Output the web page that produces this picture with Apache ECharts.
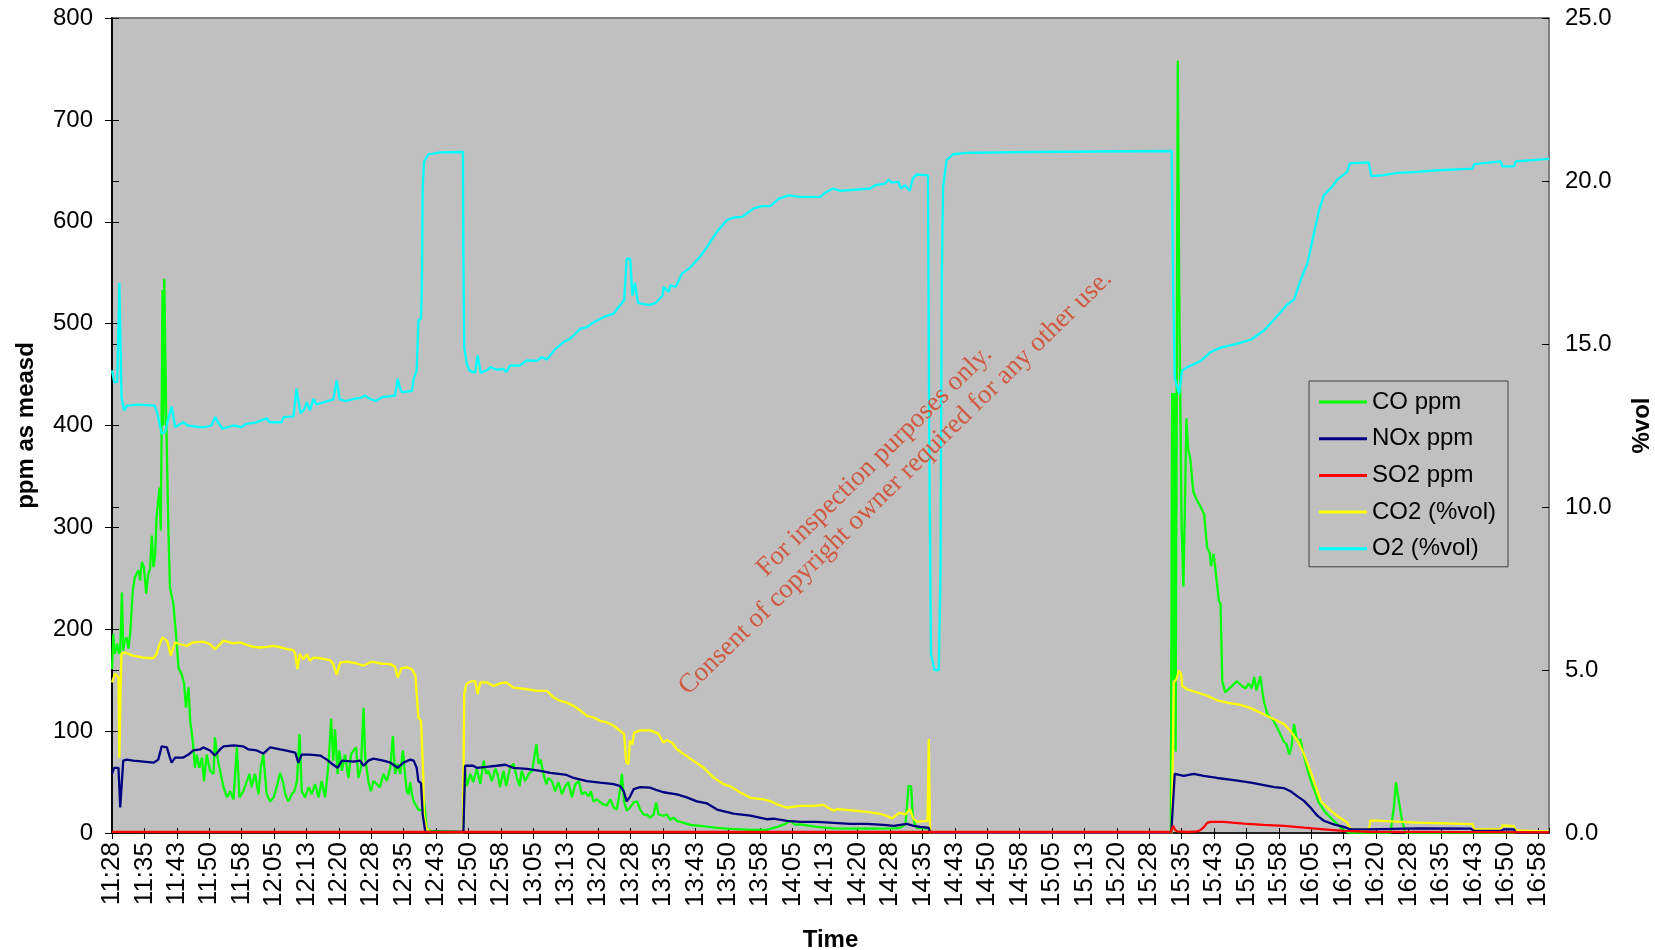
<!DOCTYPE html>
<html>
<head>
<meta charset="utf-8">
<script src="https://cdn.jsdelivr.net/npm/echarts@6.0.0/dist/echarts.min.js"></script>
<style>
  html, body { margin: 0; padding: 0; background: #fff; }
  #chart { width: 1655px; height: 950px; }
</style>
</head>
<body>
<div id="chart"></div>
<script>
// x = minutes after 11:28, one label every 7.5 minutes
var timeLabels = ['11:28','11:35','11:43','11:50','11:58','12:05','12:13','12:20','12:28','12:35',
  '12:43','12:50','12:58','13:05','13:13','13:20','13:28','13:35','13:43','13:50','13:58','14:05',
  '14:13','14:20','14:28','14:35','14:43','14:50','14:58','15:05','15:13','15:20','15:28','15:35',
  '15:43','15:50','15:58','16:05','16:13','16:20','16:28','16:35','16:43','16:50','16:58'];
var labelStep = 7.5;
var names = ['CO ppm', 'NOx ppm', 'SO2 ppm', 'CO2 (%vol)', 'O2 (%vol)'];
var colors = ['#00ff00', '#000080', '#ff0000', '#ffff00', '#00ffff'];

// [minute, ppm]
var coPpm = [[0,161],[0.3,195],[0.6,176],[0.9,180],[1.2,186],[1.6,176],[1.9,178],[2.3,236],[2.6,179],[3.0,190],
  [3.4,192],[3.8,181],[4.2,195],[4.8,238],[5.3,251],[6.1,258],[6.5,248],[6.9,266],[7.4,261],[7.9,235],
  [8.4,254],[8.8,259],[9.2,292],[9.6,261],[10.0,274],[10.3,310],[11.0,339],[11.3,297],[11.7,533],[11.9,400],
  [12.1,544],[12.5,420],[12.8,350],[13.0,307],[13.4,241],[14.2,225],[14.8,195],[15.4,162],[16.1,156],[16.7,146],
  [17.1,123],[17.7,143],[18.1,110],[18.7,90],[19.2,64],[19.6,77],[20.2,64],[20.8,74],[21.3,51],[21.9,77],
  [22.7,61],[23.5,58],[23.8,94],[24.4,74],[25.0,61],[25.8,45],[26.6,35],[27.3,41],[28.1,33],[28.9,84],
  [29.5,35],[30.4,41],[31.2,51],[31.8,58],[32.3,45],[33.1,58],[33.9,38],[34.4,64],[35.0,77],[35.8,38],
  [36.6,31],[37.4,35],[38.1,45],[38.9,59],[39.5,51],[40.1,38],[40.8,31],[41.6,38],[42.2,41],[42.8,51],
  [43.4,97],[43.9,41],[44.7,35],[45.5,45],[46.2,38],[47.0,48],[47.8,35],[48.5,51],[49.3,35],[50.1,68],
  [50.7,112],[51.2,71],[51.6,102],[52.2,58],[52.6,81],[53.2,61],[53.9,77],[54.7,54],[55.3,77],[55.9,81],
  [56.5,84],[57.0,54],[57.6,64],[58.2,123],[58.6,74],[59.3,51],[59.9,41],[60.5,51],[61.3,48],[62.0,45],
  [62.8,58],[63.6,51],[64.4,64],[65.0,95],[65.5,58],[66.1,68],[66.7,58],[67.3,81],[67.8,58],[68.2,41],
  [68.6,38],[69.0,50],[69.4,38],[69.8,31],[70.2,30],[70.9,23],[71.7,22],[72.1,35],[72.5,18],[72.8,5],
  [73.6,2],[81.3,1],[81.6,64],[82.1,46],[82.9,58],[83.6,50],[84.4,63],[85.2,48],[86.0,71],[86.6,58],
  [87.1,61],[87.9,51],[88.7,63],[89.2,58],[89.8,45],[90.6,61],[91.2,46],[92.1,64],[92.9,68],[93.7,54],
  [94.3,46],[94.8,61],[95.6,51],[96.4,58],[97.2,61],[97.7,74],[98.2,87],[98.7,68],[99.2,72],[99.8,58],
  [100.5,48],[101.0,54],[101.8,51],[102.5,41],[103.3,50],[104.1,38],[104.9,46],[105.6,50],[106.4,35],[107.2,48],
  [108.0,51],[108.7,38],[109.5,40],[110.3,36],[110.8,41],[111.4,31],[112.2,33],[113.0,30],[113.7,28],[114.5,27],
  [115.3,33],[116.1,25],[116.8,23],[117.4,38],[118.0,58],[118.5,31],[119.1,22],[119.9,25],[120.7,30],[121.5,31],
  [122.2,23],[123.0,18],[123.8,18],[124.5,15],[125.3,18],[125.9,30],[126.5,18],[127.6,17],[128.4,18],[129.2,13],
  [129.9,15],[130.7,12],[132.3,10],[133.8,8],[136.1,7],[140.0,5],[143.1,4],[147.7,3],[151.5,3],[153.9,6],
  [155.8,9],[156.9,12],[158.1,8],[159.3,8.5],[163.1,6],[167.0,4.6],[174.7,4.3],[180.9,4.6],[182.4,5.2],[183.6,8.5],
  [184.3,46],[184.9,46],[185.3,15],[186.1,5],[189.0,4.3],[189.3,0.3],[245.0,0.3],[245.3,432],[245.5,150],[245.8,432],
  [246.1,80],[246.6,758],[247.0,500],[247.5,300],[247.9,242],[248.3,330],[248.6,407],[249.0,377],[249.5,367],[250.2,335],
  [251.1,326],[251.9,320],[252.7,313],[253.4,280],[254.0,275],[254.3,262],[254.9,274],[255.6,248],[256.1,228],[256.5,225],
  [256.9,149],[257.6,138],[258.8,143],[260.3,149],[261.5,144],[262.3,142],[263.0,147],[263.7,142],[264.3,153],[264.8,140],
  [265.7,154],[266.5,130],[267.3,117],[268.8,110],[270.0,100],[271.1,90],[271.8,87],[272.4,77],[272.9,84],[273.5,107],
  [274.2,90],[275.0,92],[275.7,77],[276.9,58],[277.7,48],[279.2,30],[280.8,20],[282.7,12],[284.6,4],[286.2,0.3],
  [295.8,0.5],[296.6,25],[297.1,50],[297.8,30],[298.5,12],[299.3,0.5],[332.5,0.3]];

var noxPpm = [[0,58],[0.5,64],[1.5,64],[1.9,25],[2.6,71],[3.4,72],[4.9,71],[7.3,70],[9.6,69],[10.7,72],
  [11.5,85],[12.7,84],[13.4,74],[13.8,69],[14.6,74],[16.5,74],[17.7,77],[18.8,81],[20.4,82],[21.1,84],
  [22.7,81],[23.8,76],[25.0,82],[25.8,85],[28.1,86],[30.4,85],[31.6,82],[33.5,81],[35.0,78],[36.6,84],
  [38.9,82],[40.1,81],[42.4,79],[43.1,69],[43.9,77],[45.8,77],[48.2,76],[49.7,72],[51.2,67],[52.2,64],
  [53.2,71],[55.9,70],[57.4,71],[58.2,66],[59.3,71],[60.5,73],[62.8,71],[64.4,69],[66.1,64],[67.4,69],
  [69.0,72],[69.8,71],[70.5,64],[70.9,51],[71.5,49],[71.9,18],[72.5,1],[81.3,1],[81.7,66],[83.6,66],
  [84.4,64],[86.7,65],[89.0,66],[91.0,67],[92.9,64],[96.0,63],[99.1,61],[101.4,59],[105.2,57],[106.8,54],
  [109.9,51],[112.9,49.5],[116.1,48],[117.6,46],[118.4,41],[119.1,31],[119.9,36],[120.7,43],[122.2,45],[124.5,44.5],
  [126.1,42],[127.6,40],[130.7,38],[133.0,35],[135.3,31],[137.7,29],[140.0,23],[141.9,21],[143.8,19],[147.7,17],
  [151.5,13.5],[153.1,14],[156.2,12],[159.3,11],[163.1,11],[167.0,10],[170.8,9],[174.7,9],[178.5,8],[180.9,7],
  [183.9,9],[185.5,7],[187.0,6],[189.0,5],[189.3,0.5],[245.1,0.5],[245.9,58],[248.0,56],[250.3,58],[252.6,56],
  [255.7,54],[259.6,52],[263.5,49.5],[266.5,47],[268.9,45],[271.2,44],[272.7,41],[274.3,36],[275.8,31.5],[277.3,25],
  [278.9,17],[280.4,12],[282.7,8.5],[285.0,6],[286.6,3.6],[290.8,3.6],[291.2,5.2],[302.0,4.6],[314.4,4.3],[315.2,2],
  [321.3,2],[322.1,3.6],[324.4,3.6],[324.8,0.5],[332.5,0.3]];

var so2Ppm = [[0,1.2],[60,1],[120,1],[189,1],[245.0,1],[245.5,7],[246.0,3],[246.5,1.6],[248.8,1],[251.1,1.6],
  [251.9,3],[252.7,6],[253.4,10],[254.2,11],[257.3,11],[261.9,9.2],[266.5,7.9],[271.2,6.9],[275.8,5.2],[280.4,3.6],
  [285.0,2],[291.2,1.2],[302,1.2],[332.5,0.6]];

// [minute, %vol]
var co2Vol = [[0,4.62],[0.7,4.89],[1.5,4.77],[1.7,2.31],[2.0,4.46],[2.2,5.49],[2.8,5.54],[4.9,5.44],[7.3,5.38],[9.6,5.36],
  [10.3,5.49],[11.0,5.79],[11.7,6.0],[12.7,5.9],[13.0,5.79],[13.6,5.44],[14.0,5.38],[14.6,5.85],[15.7,5.79],[17.3,5.74],
  [18.8,5.85],[21.1,5.87],[22.7,5.79],[23.8,5.64],[25.0,5.79],[25.8,5.9],[28.1,5.82],[29.6,5.85],[31.2,5.77],[32.7,5.71],
  [34.3,5.69],[35.8,5.71],[37.4,5.74],[39.3,5.69],[40.5,5.64],[42.0,5.61],[42.4,5.49],[42.9,5.03],[43.4,5.49],[44.3,5.33],
  [45.1,5.49],[45.8,5.28],[46.6,5.38],[48.2,5.36],[50.5,5.3],[51.2,5.18],[52.0,4.85],[52.8,5.23],[54.3,5.26],[56.6,5.2],
  [58.2,5.13],[60.1,5.26],[62.0,5.2],[64.4,5.18],[65.5,5.1],[66.1,4.77],[67.0,5.06],[68.2,5.08],[69.4,5.03],[70.2,4.82],
  [70.9,3.54],[71.5,3.44],[72.0,1.8],[72.2,0.57],[72.7,0.15],[73.6,0.03],[81.2,0.02],[81.5,4.26],[82.0,4.57],[82.9,4.64],
  [84.0,4.67],[84.6,4.26],[85.2,4.62],[86.7,4.62],[88.3,4.51],[89.8,4.59],[91.2,4.62],[92.9,4.46],[96.0,4.41],[98.3,4.36],
  [100.6,4.36],[102.2,4.16],[103.7,4.05],[105.2,4.0],[106.8,3.9],[108.4,3.75],[109.9,3.59],[111.5,3.54],[112.9,3.44],[114.5,3.39],
  [116.1,3.29],[117.6,3.13],[118.5,3.03],[119.0,2.16],[119.5,2.11],[119.8,2.83],[120.4,2.72],[120.8,3.08],[122.2,3.15],[124.5,3.15],
  [126.4,3.05],[127.6,2.77],[128.4,2.85],[129.6,2.77],[130.7,2.57],[132.3,2.42],[134.6,2.21],[136.9,2.0],[139.2,1.7],[141.5,1.5],
  [143.1,1.43],[145.4,1.24],[147.7,1.08],[150.8,1.03],[152.3,0.98],[153.9,0.88],[156.2,0.78],[159.3,0.83],[162.3,0.83],[164.7,0.86],
  [165.4,0.8],[167.0,0.68],[167.7,0.73],[170.8,0.7],[174.7,0.65],[177.8,0.59],[179.3,0.52],[180.5,0.45],[182.2,0.62],[183.6,0.57],
  [184.6,0.73],[185.5,0.42],[186.3,0.35],[188.7,0.37],[189.0,2.88],[189.3,0],[245.2,0],[245.7,4.62],[246.3,4.72],[246.9,4.98],
  [247.4,4.87],[247.6,4.51],[248.8,4.41],[251.1,4.31],[253.4,4.21],[255.7,4.07],[258.0,4.0],[261.1,3.93],[263.5,3.83],[266.5,3.64],
  [268.9,3.49],[271.2,3.34],[272.7,3.13],[274.3,2.83],[275.8,2.42],[277.3,1.9],[278.9,1.29],[279.7,0.98],[281.2,0.78],[283.5,0.52],
  [285.8,0.32],[286.6,0.11],[290.8,0.11],[291.2,0.39],[302.0,0.32],[314.8,0.27],[315.2,0.11],[321.3,0.11],[321.7,0.23],[324.4,0.21],
  [324.8,0.08],[332.5,0.04]];

var o2Vol = [[0,14.19],[0.5,13.83],[1.2,13.83],[1.7,16.87],[2.2,13.37],[2.8,12.96],[3.5,13.11],[6.0,13.14],[9.9,13.11],[10.5,12.86],
  [11.5,12.25],[12.3,12.3],[13.0,12.7],[13.8,13.08],[14.6,12.45],[16.5,12.6],[17.5,12.5],[20.4,12.45],[21.5,12.45],[23.0,12.5],
  [23.9,12.76],[24.5,12.6],[25.6,12.4],[28.1,12.5],[30.0,12.45],[31.0,12.55],[33.0,12.58],[35.0,12.68],[35.8,12.72],[36.5,12.6],
  [39.3,12.6],[39.7,12.76],[42.0,12.78],[42.7,13.63],[43.6,12.88],[44.5,13.0],[45.1,13.22],[45.8,12.96],[46.6,13.32],[47.3,13.15],
  [50.5,13.27],[51.2,13.3],[52.0,13.88],[52.7,13.3],[54.0,13.25],[56.0,13.32],[57.5,13.35],[58.5,13.42],[59.5,13.33],[61.0,13.25],
  [62.5,13.37],[64.5,13.4],[65.5,13.42],[66.1,13.93],[66.7,13.62],[67.1,13.52],[69.4,13.56],[69.8,13.93],[70.5,14.19],[70.9,15.72],
  [71.5,15.78],[71.7,16.75],[71.9,19.82],[72.2,20.59],[73.2,20.82],[75.9,20.88],[81.2,20.89],[81.3,17.78],[81.5,14.9],[82.1,14.39],
  [82.8,14.17],[84.0,14.12],[84.6,14.65],[85.3,14.12],[86.7,14.19],[87.6,14.29],[89.0,14.21],[90.5,14.24],[91.2,14.14],[92.1,14.34],
  [94.4,14.34],[96.0,14.5],[98.3,14.48],[99.5,14.6],[100.6,14.52],[102.6,14.85],[104.5,15.06],[106.0,15.16],[108.4,15.47],[109.9,15.52],
  [111.5,15.67],[113.8,15.83],[116.1,15.93],[116.9,16.08],[118.5,16.34],[119.1,17.62],[119.9,17.62],[120.4,16.49],[121.0,16.87],[121.7,16.26],
  [124.3,16.19],[125.8,16.26],[127.4,16.49],[127.6,16.75],[128.8,16.6],[129.2,16.8],[130.4,16.75],[131.9,17.16],[133.9,17.36],[136.2,17.7],
  [137.7,17.98],[140.0,18.45],[142.3,18.8],[143.8,18.88],[145.8,18.9],[148.5,19.16],[150.4,19.23],[152.3,19.23],[154.3,19.46],[156.6,19.56],
  [159.3,19.51],[163.9,19.51],[165.0,19.64],[166.8,19.77],[168.5,19.7],[175.4,19.77],[176.6,19.87],[178.9,19.92],[179.7,20.04],[180.4,19.95],
  [182.0,19.97],[182.5,19.77],[183.5,19.87],[184.6,19.7],[185.3,20.08],[186.2,20.2],[188.8,20.17],[189.1,12],[189.5,5.5],[190.3,5.0],
  [191.3,5.0],[191.7,8],[192.0,17],[192.3,19.8],[193.1,20.64],[194.6,20.82],[197.7,20.86],[212.3,20.89],[245.2,20.92],[245.5,17.0],
  [245.9,13.98],[246.9,13.47],[247.6,14.19],[248.8,14.29],[251.9,14.48],[254.2,14.75],[256.5,14.89],[260.4,15.01],[263.5,15.13],[266.6,15.42],
  [268.9,15.75],[272.0,16.22],[273.5,16.36],[275.0,16.95],[276.6,17.47],[278.1,18.39],[279.3,19.1],[280.4,19.56],[282.4,19.84],[283.5,20.04],
  [285.8,20.28],[286.4,20.54],[290.8,20.57],[291.4,20.15],[294.3,20.18],[297.4,20.25],[302.0,20.28],[306.7,20.33],[314.8,20.38],[315.2,20.52],
  [321.3,20.6],[321.7,20.45],[324.4,20.45],[324.8,20.6],[332.5,20.68]];

var seriesData = [coPpm, noxPpm, so2Ppm, co2Vol, o2Vol];
var onRight = [0, 0, 0, 1, 1];
var zOrder = [2, 4, 6, 3, 5];

var font = 'Liberation Sans';
var myChart = echarts.init(document.getElementById('chart'));

function timeLabel(v) {
    var i = Math.round(v / labelStep);
    if (Math.abs(v - i * labelStep) > 1e-6) return '';
    return timeLabels[i] || '';
}

var option = {
    animation: false,
    backgroundColor: '#ffffff',
    textStyle: { fontFamily: font },
    grid: {
        left: 112, right: 106, top: 18, bottom: 117,
        outerBoundsMode: 'none',
        show: true,
        backgroundColor: '#c0c0c0',
        borderColor: '#808080',
        borderWidth: 2
    },
    legend: {
        orient: 'vertical',
        left: 1309,
        top: 381,
        data: names,
        icon: 'rect',
        itemWidth: 48,
        itemHeight: 3,
        itemGap: 12.7,
        padding: [9, 12, 6, 10],
        borderColor: '#404040',
        borderWidth: 1,
        backgroundColor: '#c0c0c0',
        textStyle: { fontSize: 24, color: '#000', fontFamily: font }
    },
    xAxis: [{
        type: 'value',
        min: 0,
        max: 332.5,
        interval: labelStep,
        name: 'Time',
        nameLocation: 'middle',
        nameGap: 95,
        nameTextStyle: { fontSize: 24, fontWeight: 'bold', color: '#000', fontFamily: font },
        axisLine: { onZero: false, lineStyle: { color: '#000', width: 1.5 } },
        axisTick: { length: 6, lineStyle: { color: '#000' } },
        axisLabel: {
            rotate: 90, margin: 9, fontSize: 26, color: '#000', fontFamily: font,
            showMaxLabel: false, formatter: timeLabel
        },
        splitLine: { show: false }
    }, {
        // inner half of the crossing tick marks
        type: 'value', min: 0, max: 332.5, interval: labelStep, position: 'bottom',
        axisLine: { show: false },
        axisTick: { inside: true, length: 5, lineStyle: { color: '#000' } },
        axisLabel: { show: false },
        splitLine: { show: false }
    }],
    yAxis: [{
        type: 'value',
        min: 0, max: 800, interval: 100,
        position: 'left',
        name: 'ppm as measd',
        nameLocation: 'middle',
        nameRotate: 90,
        nameGap: 74,
        nameTextStyle: { fontSize: 24, fontWeight: 'bold', color: '#000', fontFamily: font },
        axisLine: { show: true, lineStyle: { color: '#000', width: 1.5 } },
        axisTick: { show: true, length: 7, lineStyle: { color: '#000' } },
        axisLabel: { margin: 19, fontSize: 24, color: '#000', fontFamily: font },
        splitLine: { show: false }
    }, {
        type: 'value',
        min: 0, max: 25, interval: 5,
        position: 'right',
        name: '%vol',
        nameLocation: 'middle',
        nameRotate: 90,
        nameGap: 81,
        nameTextStyle: { fontSize: 24, fontWeight: 'bold', color: '#000', fontFamily: font },
        axisLine: { show: true, lineStyle: { color: '#000', width: 1.5 } },
        axisTick: { show: true, length: 7, lineStyle: { color: '#000' } },
        axisLabel: {
            margin: 16, fontSize: 24, color: '#000', fontFamily: font,
            formatter: function (v) { return v.toFixed(1); }
        },
        splitLine: { show: false }
    }, {
        type: 'value', min: 0, max: 800, interval: 100, position: 'left',
        axisLine: { show: false },
        axisTick: { show: true, inside: true, length: 7, lineStyle: { color: '#000' } },
        axisLabel: { show: false },
        splitLine: { show: false }
    }, {
        type: 'value', min: 0, max: 25, interval: 5, position: 'right',
        axisLine: { show: false },
        axisTick: { show: true, inside: true, length: 7, lineStyle: { color: '#000' } },
        axisLabel: { show: false },
        splitLine: { show: false }
    }],
    series: names.map(function (name, i) {
        return {
            name: name,
            type: 'line',
            xAxisIndex: 0,
            yAxisIndex: onRight[i],
            data: seriesData[i],
            symbol: 'none',
            z: zOrder[i],
            color: colors[i],
            lineStyle: { color: colors[i], width: 2.3 },
            emphasis: { disabled: true }
        };
    }),
    graphic: [{
        type: 'text',
        x: 885,
        y: 472,
        rotation: 0.775,
        z: 100,
        style: {
            text: 'For inspection purposes only.\nConsent of copyright owner required for any other use.',
            align: 'center',
            verticalAlign: 'middle',
            fontSize: 27,
            lineHeight: 30,
            fontFamily: 'Liberation Serif',
            fill: '#cf5a43'
        }
    }]
};

myChart.setOption(option);
</script>
</body>
</html>
